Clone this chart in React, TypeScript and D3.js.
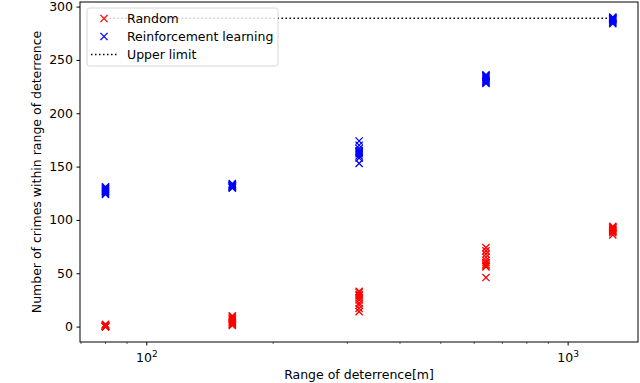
import React, { useEffect, useRef } from "react";
import * as d3 from "d3";

// deterrence ranges (m), one group of runs per range
const ranges = [80, 160, 320, 640, 1280];

// crimes within range of deterrence, 10 runs per range
const randomRuns = [
  [0, 0, 1, 2, 0, 1, 0, 2, 1, 0],
  [1, 2, 3, 4, 5, 6, 7, 8, 9, 10],
  [14, 17, 20, 22, 25, 27, 29, 30, 32, 33],
  [46, 56, 57, 58, 60, 62, 65, 68, 71, 74],
  [86, 88, 89, 90, 91, 92, 93, 93, 94, 90],
];
const rlRuns = [
  [124, 125, 126, 127, 128, 129, 130, 131, 129, 127],
  [130, 131, 132, 132, 133, 134, 131, 133, 132, 130],
  [153, 158, 160, 162, 163, 164, 165, 167, 170, 174],
  [228, 229, 230, 231, 232, 233, 234, 235, 235, 236],
  [284, 285, 286, 287, 288, 289, 289, 290, 290, 288],
];
const upperLimit = 289;

const yTicks = [0, 50, 100, 150, 200, 250, 300];
const xMajor = [100, 1000];
const xMinor = [70, 80, 90, 200, 300, 400, 500, 600, 700, 800, 900];

const legendItems = [
  { label: "Random", kind: "x", color: "#ff0000" },
  { label: "Reinforcement learning", kind: "x", color: "#0000ff" },
  { label: "Upper limit", kind: "line", color: "#000000" },
];

const W = 640;
const H = 383;
const font = "'DejaVu Sans', sans-serif";

function App() {
  const ref = useRef<SVGSVGElement>(null);

  useEffect(() => {
    const svg = d3.select(ref.current);
    svg.selectAll("*").remove();

    const left = 80, right = 638, top = 2, bottom = 342;
    const x = d3.scaleLog().domain([69.6, 1469]).range([left, right]);
    const y = d3.scaleLinear().domain([-14.45, 304.3]).range([bottom, top]);

    const g = svg.append("g");

    // upper limit dotted line
    g.append("line")
      .attr("x1", x(ranges[0]))
      .attr("x2", x(ranges[ranges.length - 1]))
      .attr("y1", y(upperLimit))
      .attr("y2", y(upperLimit))
      .attr("stroke", "#000")
      .attr("stroke-width", 1.5)
      .attr("stroke-dasharray", "1.5,2.5");

    const cross = (sel, color) => {
      const s = 3.6;
      sel.append("path")
        .attr("d", `M${-s},${-s}L${s},${s}M${-s},${s}L${s},${-s}`)
        .attr("stroke", color)
        .attr("stroke-width", 1.3)
        .attr("fill", "none");
    };

    const flat = (runs) =>
      runs.flatMap((vals, i) => vals.map((v) => ({ r: ranges[i], v })));

    [[randomRuns, "#ff0000"], [rlRuns, "#0000ff"]].forEach(([runs, color]) => {
      g.append("g")
        .selectAll("g")
        .data(flat(runs))
        .join("g")
        .attr("transform", (d) => `translate(${x(d.r)},${y(d.v)})`)
        .call(cross, color);
    });

    // y axis
    const yAxis = g.append("g")
      .attr("transform", `translate(${left},0)`)
      .call(d3.axisLeft(y).tickValues(yTicks).tickSize(3.5).tickPadding(3.5));
    yAxis.select(".domain").remove();
    yAxis.selectAll("text")
      .attr("font-family", font)
      .attr("font-size", 12.5)
      .attr("fill", "#000");

    // x axis, major + minor ticks
    const xAxis = g.append("g")
      .attr("transform", `translate(0,${bottom})`)
      .call(d3.axisBottom(x).tickValues(xMajor).tickSize(3.5).tickFormat(() => ""));
    xAxis.select(".domain").remove();
    xAxis.selectAll(".tick text").remove();
    xAxis.selectAll(".tick")
      .append("text")
      .attr("y", 20)
      .attr("text-anchor", "middle")
      .attr("font-family", font)
      .attr("font-size", 12.5)
      .attr("fill", "#000")
      .each(function (d) {
        const t = d3.select(this);
        t.append("tspan").text("10");
        t.append("tspan")
          .attr("dy", -5)
          .attr("font-size", 9)
          .text(String(Math.round(Math.log10(d))));
      });
    g.append("g")
      .selectAll("line")
      .data(xMinor)
      .join("line")
      .attr("x1", (d) => x(d))
      .attr("x2", (d) => x(d))
      .attr("y1", bottom)
      .attr("y2", bottom + 2)
      .attr("stroke", "#000")
      .attr("stroke-width", 0.6);

    // frame
    g.append("rect")
      .attr("x", left)
      .attr("y", top)
      .attr("width", right - left)
      .attr("height", bottom - top)
      .attr("fill", "none")
      .attr("stroke", "#000")
      .attr("stroke-width", 1);

    // axis labels
    g.append("text")
      .attr("x", (left + right) / 2)
      .attr("y", 379)
      .attr("text-anchor", "middle")
      .attr("font-family", font)
      .attr("font-size", 12.5)
      .text("Range of deterrence[m]");
    g.append("text")
      .attr("transform", `translate(41,${(top + bottom) / 2}) rotate(-90)`)
      .attr("text-anchor", "middle")
      .attr("font-family", font)
      .attr("font-size", 12.5)
      .text("Number of crimes within range of deterrence");

    // legend
    const lg = g.append("g").attr("transform", "translate(87,8)");
    lg.append("rect")
      .attr("width", 191)
      .attr("height", 58)
      .attr("rx", 2.5)
      .attr("fill", "#fff")
      .attr("fill-opacity", 0.8)
      .attr("stroke", "#ccc")
      .attr("stroke-width", 0.8);
    legendItems.forEach((it, i) => {
      const cy = 10.5 + i * 18;
      if (it.kind === "x") {
        lg.append("g").attr("transform", `translate(17,${cy})`).call(cross, it.color);
      } else {
        lg.append("line")
          .attr("x1", 4).attr("x2", 30)
          .attr("y1", cy).attr("y2", cy)
          .attr("stroke", it.color)
          .attr("stroke-width", 1.5)
          .attr("stroke-dasharray", "1.5,2.5");
      }
      lg.append("text")
        .attr("x", 40)
        .attr("y", cy + 4.5)
        .attr("font-family", font)
        .attr("font-size", 12.5)
        .text(it.label);
    });
  }, []);

  return (
    <svg
      ref={ref}
      width={W}
      height={H}
      style={{ position: "absolute", left: 0, top: 0, background: "#fff" }}
    />
  );
}

export default App;
